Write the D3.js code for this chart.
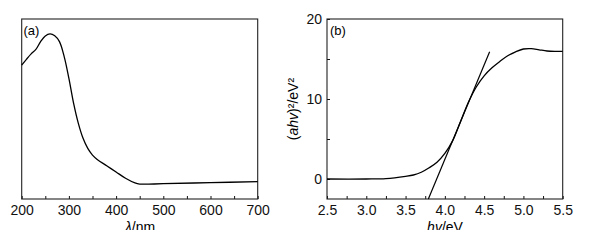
<!DOCTYPE html>
<html>
<head>
<meta charset="utf-8">
<script src="https://cdn.jsdelivr.net/npm/d3@7"></script>
<style>
  body { margin: 0; background: #fff; }
  svg { display: block; font-family: "Liberation Sans", Arial, sans-serif; }
  .axis path { display: none; }
  .axis line { stroke: #111; }
  .axis text { font-size: 14px; fill: #111; }
</style>
</head>
<body>
<svg id="chart" width="597" height="244"></svg>
<script>
// panel (a): absorption spectrum
const wavelength = [200, 210, 220, 230, 240, 250, 260, 270, 280, 290, 300, 310, 320, 330, 340, 350, 360, 380, 400, 420, 440, 450, 500, 600, 700];
const absorbance = [0.744, 0.776, 0.806, 0.831, 0.874, 0.906, 0.917, 0.907, 0.874, 0.791, 0.670, 0.531, 0.420, 0.337, 0.281, 0.244, 0.220, 0.185, 0.150, 0.115, 0.089, 0.083, 0.085, 0.091, 0.096];
const ticksA = [200, 250, 300, 350, 400, 450, 500, 550, 600, 650, 700];

// panel (b): Tauc plot
const energy = [2.5, 3.0, 3.25, 3.5, 3.6, 3.7, 3.8, 3.9, 4.0, 4.1, 4.2, 4.3, 4.4, 4.5, 4.6, 4.7, 4.8, 4.9, 5.0, 5.1, 5.2, 5.3, 5.4, 5.5];
const tauc = [0, 0, 0.05, 0.33, 0.5, 0.84, 1.4, 2.1, 3.2, 4.8, 7.2, 9.6, 11.5, 12.9, 13.9, 14.7, 15.4, 15.9, 16.25, 16.3, 16.15, 16.0, 15.95, 15.95];
const tangentX = [3.79, 4.57];
const tangentY = [-2.5, 15.9];
const ticksBx = d3.range(2.5, 5.501, 0.25);
const ticksBy = [0, 5, 10, 15, 20];

const svg = d3.select("#chart");
svg.append("defs").append("clipPath").attr("id", "page")
    .append("rect").attr("width", 597).attr("height", 230);
const root = svg.append("g").attr("clip-path", "url(#page)");

const plotTop = 19, plotBottom = 199;

// ---- panel a
const xA = d3.scaleLinear().domain([200, 700]).range([21.7, 257.7]);
const yA = d3.scaleLinear().domain([0, 1]).range([plotBottom, plotTop]);

root.append("g")
    .attr("class", "axis")
    .attr("transform", `translate(0, ${plotBottom})`)
    .call(d3.axisBottom(xA).tickValues(ticksA).tickSizeInner(-3).tickSizeOuter(0).tickPadding(6)
        .tickFormat(d => d % 100 === 0 ? d : ""));

root.append("rect")
    .attr("x", xA.range()[0]).attr("y", plotTop)
    .attr("width", xA.range()[1] - xA.range()[0]).attr("height", plotBottom - plotTop)
    .attr("fill", "none").attr("stroke", "#222").attr("stroke-width", 1.1);

root.append("path")
    .datum(wavelength.map((w, i) => [w, absorbance[i]]))
    .attr("fill", "none").attr("stroke", "#000").attr("stroke-width", 1.3)
    .attr("d", d3.line().x(d => xA(d[0])).y(d => yA(d[1])).curve(d3.curveCatmullRom.alpha(0.5)));

root.append("text").attr("x", 23.5).attr("y", 35).attr("font-size", 13).text("(a)");

const titleA = root.append("text").attr("x", 140).attr("y", 232)
    .attr("text-anchor", "middle").attr("font-size", 14);
titleA.append("tspan").attr("font-style", "italic").text("λ");
titleA.append("tspan").text("/nm");

// ---- panel b
const xB = d3.scaleLinear().domain([2.5, 5.5]).range([327, 562.7]);
const yB = d3.scaleLinear().domain([-2.5, 20]).range([plotBottom, plotTop]);

root.append("g")
    .attr("class", "axis")
    .attr("transform", `translate(0, ${plotBottom})`)
    .call(d3.axisBottom(xB).tickValues(ticksBx).tickSizeInner(-3).tickSizeOuter(0).tickPadding(6)
        .tickFormat(d => Math.abs(d * 2 - Math.round(d * 2)) < 1e-6 ? d.toFixed(1) : ""));

root.append("g")
    .attr("class", "axis")
    .attr("transform", `translate(${xB.range()[0]}, 0)`)
    .call(d3.axisLeft(yB).tickValues(ticksBy).tickSizeInner(-3).tickSizeOuter(0).tickPadding(5)
        .tickFormat(d => d % 10 === 0 ? d : ""));

root.append("rect")
    .attr("x", xB.range()[0]).attr("y", plotTop)
    .attr("width", xB.range()[1] - xB.range()[0]).attr("height", plotBottom - plotTop)
    .attr("fill", "none").attr("stroke", "#222").attr("stroke-width", 1.1);

root.append("path")
    .datum(energy.map((e, i) => [e, tauc[i]]))
    .attr("fill", "none").attr("stroke", "#000").attr("stroke-width", 1.3)
    .attr("d", d3.line().x(d => xB(d[0])).y(d => yB(d[1])).curve(d3.curveCatmullRom.alpha(0.5)));

root.append("line")
    .attr("x1", xB(tangentX[0])).attr("y1", yB(tangentY[0]))
    .attr("x2", xB(tangentX[1])).attr("y2", yB(tangentY[1]))
    .attr("stroke", "#000").attr("stroke-width", 1.2);

root.append("text").attr("x", 330).attr("y", 35).attr("font-size", 13).text("(b)");

const titleB = root.append("text").attr("x", 445).attr("y", 232)
    .attr("text-anchor", "middle").attr("font-size", 14);
titleB.append("tspan").attr("font-style", "italic").text("hv");
titleB.append("tspan").text("/eV");

const yTitle = root.append("text")
    .attr("transform", "translate(298, 109) rotate(-90)")
    .attr("text-anchor", "middle").attr("font-size", 14);
yTitle.append("tspan").text("(");
yTitle.append("tspan").attr("font-style", "italic").text("ahv");
yTitle.append("tspan").text(")²/eV²");
</script>
</body>
</html>
